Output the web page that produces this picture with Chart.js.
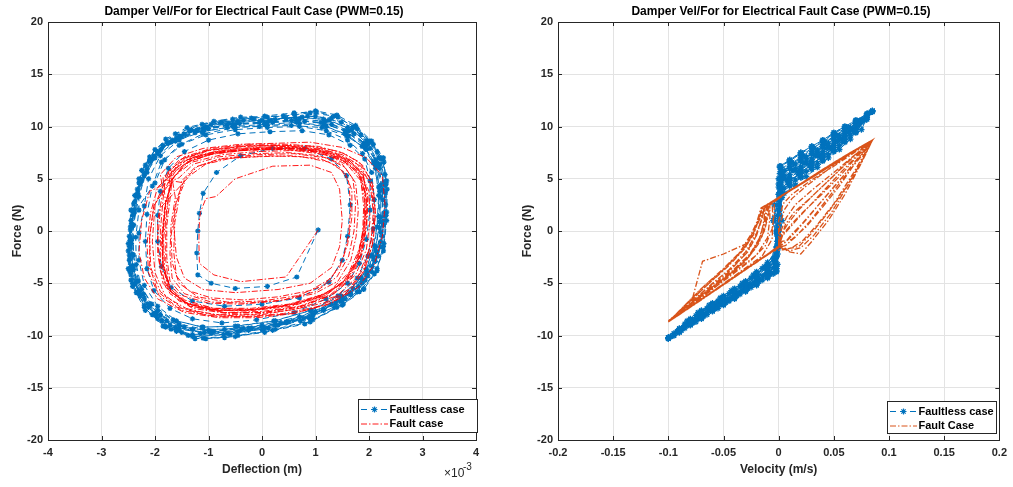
<!DOCTYPE html>
<html>
<head>
<meta charset="utf-8">
<script src="https://cdn.jsdelivr.net/npm/chart.js@4.4.1/dist/chart.umd.min.js"></script>
<style>
  html, body { margin: 0; padding: 0; background: #fff; }
  #wrap { position: relative; width: 1013px; height: 487px; overflow: hidden; }
  canvas { position: absolute; top: 0; }
</style>
</head>
<body>
<div id="wrap">
  <canvas id="deflChart" width="506" height="487" style="left:0"></canvas>
  <canvas id="velChart" width="507" height="487" style="left:506px"></canvas>
</div>
<script>
const chartTitle = "Damper Vel/For for Electrical Fault Case (PWM=0.15)";
const deflTicks = [-4, -3, -2, -1, 0, 1, 2, 3, 4];
const velTicks = [-0.2, -0.15, -0.1, -0.05, 0, 0.05, 0.1, 0.15, 0.2];
const forceTicks = [-20, -15, -10, -5, 0, 5, 10, 15, 20];

// left plot: [deflection (x1e-3 m), force (N)], one line per cycle
const faultlessDefl = [
  [1.05,0.1],[0.65,-4.4],[0.1,-5.3],[-0.5,-5.5],[-0.95,-5.0],[-1.2,-4.2],[-1.22,-2.1],[-1.2,0.0],[-1.17,1.7],[-1.1,3.6],[-0.85,5.6],[-0.4,7.2],[0.2,7.9],[0.8,7.9],[1.3,6.9],[1.58,5.3],[1.65,2.5],[1.6,-0.5],[1.5,-2.8],[1.25,-4.9],[0.7,-6.4],[0.0,-7.0],[-0.7,-7.2],[-1.3,-6.7],[-1.7,-5.4],[-1.88,-3.4],[-1.95,-1.0],[-1.95,1.5],
  [-1.9,3.8],[-1.75,6.0],[-1.45,7.6],[-1.0,8.7],[-0.45,9.3],[0.15,9.5],[0.75,9.6],[1.25,9.2],[1.65,8.2],[1.92,6.9],[2.02,4.8],[2.02,2.0],[1.95,-0.8],[1.82,-3.1],[1.6,-5.0],[1.2,-6.5],[0.6,-7.8],[-0.1,-8.5],[-0.75,-8.8],[-1.3,-8.4],[-1.72,-7.4],[-2.02,-5.7],[-2.15,-3.6],[-2.18,-1.0],[-2.15,1.6],
  [-2.05,4.3],[-1.88,6.6],[-1.55,8.2],[-1.1,9.3],[-0.5,9.9],[0.1,10.1],[0.7,10.3],[1.2,10.0],[1.62,9.1],[1.95,7.8],[2.12,6.0],[2.18,3.4],[2.15,0.4],[2.05,-2.3],[1.85,-4.5],[1.5,-6.3],[1.0,-7.7],[0.35,-8.8],[-0.35,-9.3],[-1.0,-9.5],[-1.55,-8.9],[-1.95,-7.6],[-2.25,-5.6],[-2.35,-3.2],[-2.36,-0.6],[-2.3,2.0],
  [-2.3,5.0],[-2.1,7.1],[-1.8,8.8],[-1.4,9.9],[-0.9,10.5],[-0.4,10.9],[0.1,10.9],[0.6,11.2],[1.0,11.5],[1.4,11.1],[1.75,10.1],[2.05,8.6],[2.27,7.0],[2.32,4.5],[2.32,1.5],[2.27,-1.5],[2.15,-3.8],[1.9,-5.6],[1.5,-7.1],[0.9,-8.7],[0.2,-9.5],[-0.5,-10.1],[-1.05,-10.3],[-1.5,-9.7],[-1.87,-8.6],[-2.2,-6.5],[-2.45,-4.2],[-2.48,-1.5],[-2.42,1.9],
  [-2.28,4.6],[-2.05,6.9],[-1.7,8.5],[-1.22,9.6],[-0.65,10.2],[-0.05,10.4],[0.55,10.6],[1.1,10.4],[1.55,9.6],[1.9,8.4],[2.12,6.8],[2.22,4.4],[2.22,1.3],[2.12,-1.6],[1.96,-4.0],[1.65,-5.9],[1.15,-7.5],[0.45,-8.7],[-0.25,-9.3],[-0.95,-9.6],[-1.55,-9.1],[-1.98,-7.8],[-2.3,-5.7],[-2.42,-3.3],[-2.45,-0.7],[-2.4,2.0],
  [-2.2,5.3],[-1.95,7.5],[-1.55,9.1],[-1.05,10.0],[-0.45,10.5],[0.15,10.6],[0.75,10.9],[1.25,10.6],[1.68,9.7],[1.98,8.3],[2.2,6.4],[2.3,3.7],[2.27,0.6],[2.17,-2.4],[1.93,-4.7],[1.55,-6.5],[0.95,-8.0],[0.25,-9.0],[-0.45,-9.6],[-1.15,-9.8],[-1.72,-9.0],[-2.12,-7.3],[-2.38,-5.1],[-2.47,-2.6],[-2.46,0.4],[-2.38,3.4],
  [-2.18,6.3],[-1.85,8.2],[-1.35,9.6],[-0.75,10.4],[-0.15,10.7],[0.45,10.8],[1.0,11.0],[1.48,10.4],[1.85,9.2],[2.15,7.6],[2.3,5.4],[2.31,2.5],[2.25,-0.5],[2.12,-2.9],[1.87,-5.0],[1.47,-6.7],[0.88,-8.3],[0.12,-9.3],[-0.6,-9.9],[-1.3,-10.1],[-1.82,-9.1],[-2.2,-7.1],[-2.45,-4.7],[-2.5,-1.9],[-2.45,1.0],[-2.33,4.0],
  [-2.1,6.7],[-1.75,8.4],[-1.25,9.4],[-0.65,9.9],[-0.05,10.0],[0.55,10.1],[1.12,9.9],[1.58,9.1],[1.93,7.9],[2.14,6.1],[2.21,3.3],[2.2,0.3],[2.08,-2.5],[1.86,-4.5],[1.47,-6.2],[0.92,-7.6],[0.22,-8.6],[-0.5,-9.1],[-1.12,-9.2],[-1.66,-8.5],[-2.06,-7.0],[-2.31,-4.8],[-2.4,-2.3],[-2.41,0.5],[-2.32,3.6],
  [-2.25,5.8],[-2.0,7.8],[-1.62,9.3],[-1.12,10.2],[-0.55,10.7],[0.05,11.0],[0.6,11.3],[1.02,11.4],[1.42,10.9],[1.78,9.8],[2.08,8.3],[2.28,6.6],[2.34,4.0],[2.33,1.0],[2.27,-1.9],[2.1,-4.1],[1.82,-5.8],[1.4,-7.3],[0.8,-8.9],[0.05,-9.7],[-0.7,-10.2],[-1.25,-10.3],[-1.7,-9.4],[-2.05,-8.0],[-2.35,-5.9],[-2.5,-3.6],[-2.48,-0.5],[-2.4,2.6],
  [-2.15,5.6],[-1.9,7.7],[-1.5,9.0],[-1.0,9.8],[-0.42,10.3],[0.2,10.4],[0.8,10.5],[1.3,10.2],[1.72,9.3],[2.02,7.9],[2.2,6.0],[2.26,3.0],[2.22,-0.1],[2.1,-2.8],[1.88,-4.9],[1.5,-6.6],[0.95,-8.1],[0.3,-9.0],[-0.4,-9.5],[-1.08,-9.7],[-1.62,-9.2],[-2.0,-7.9],[-2.3,-5.9],[-2.42,-3.5],[-2.44,-0.9],[-2.38,1.8],
  [-2.25,4.9],[-2.02,7.2],[-1.68,8.7],[-1.2,9.7],[-0.62,10.3],[0.0,10.6],[0.62,10.9],[1.15,10.7],[1.6,9.9],[1.95,8.6],[2.18,7.0],[2.28,4.7],[2.3,1.8],[2.22,-1.0],[2.06,-3.4],[1.8,-5.3],[1.38,-6.9],[0.78,-8.4],[0.05,-9.3],[-0.65,-9.8],[-1.3,-9.9],[-1.8,-9.2],[-2.18,-7.6],[-2.42,-5.3],[-2.48,-2.8],[-2.46,0.1],[-2.38,2.8],
  [-2.2,5.5],[-1.95,7.6],[-1.6,8.9],[-1.1,9.8],[-0.55,10.2],[0.05,10.3],[0.65,10.6],[1.15,10.3],[1.58,9.5],[1.9,8.2],[2.12,6.4],[2.2,3.8],[2.2,0.9],[2.12,-1.9],[1.95,-4.2],[1.65,-6.0],[1.15,-7.5],[0.5,-8.7],[-0.2,-9.3],[-0.9,-9.6],[-1.45,-9.2],[-1.9,-8.0],[-2.22,-6.0],[-2.4,-3.7],[-2.44,-1.2],[-2.42,1.5],
  [-2.0,4.6],[-1.82,6.8],[-1.5,8.3],[-1.05,9.2],[-0.5,9.7],[0.1,9.9],[0.7,10.0],[1.2,9.6],[1.6,8.7],[1.88,7.4],[2.05,5.6],[2.1,3.0],[2.08,0.2],[1.98,-2.4],[1.78,-4.5],[1.42,-6.2],[0.9,-7.6],[0.25,-8.6],[-0.45,-9.1],[-1.1,-9.2],[-1.6,-8.6],[-1.95,-7.2],[-2.2,-5.2],[-2.3,-2.8],[-2.3,-0.2],[-2.2,2.4],
  [-2.12,5.0],[-1.9,7.2],[-1.55,8.7],[-1.08,9.7],[-0.5,10.2],[0.1,10.4],[0.7,10.7],[1.18,10.5],[1.62,9.6],[1.95,8.2],[2.15,6.5],[2.25,4.0],[2.25,0.9],[2.15,-2.0],[1.98,-4.3],[1.66,-6.1],[1.15,-7.6],[0.45,-8.8],[-0.25,-9.5],[-0.95,-9.8],[-1.55,-9.4],[-1.98,-8.1],[-2.3,-6.0],[-2.45,-3.5],[-2.47,-0.9],[-2.4,1.9],
  [-2.3,4.6],[-2.1,6.8],[-1.78,8.5],[-1.32,9.7],[-0.78,10.4],[-0.2,10.8],[0.4,11.0],[0.9,11.3],[1.35,11.0],[1.72,10.0],[2.02,8.6],[2.24,7.0],[2.33,4.8],[2.33,1.8],[2.28,-1.2],[2.15,-3.6],[1.9,-5.5],[1.52,-7.0],[0.95,-8.5],[0.25,-9.4],[-0.45,-10.0],[-1.1,-10.25],[-1.6,-9.6],[-1.95,-8.4],[-2.28,-6.2],[-2.47,-3.9],[-2.5,-1.2],[-2.45,2.0],
  [-2.25,4.8],[-2.0,7.0],[-1.62,8.6],[-1.12,9.5],[-0.55,10.0],[0.05,10.2],[0.65,10.4],[1.15,10.1],[1.55,9.3],[1.87,8.1],[2.08,6.5],[2.18,4.2],[2.18,1.4],[2.1,-1.4],[1.95,-3.7],[1.7,-5.5],[1.3,-7.0],[0.7,-8.2],[0.0,-9.0],[-0.7,-9.4],[-1.3,-9.4],[-1.78,-8.6],[-2.12,-7.0],[-2.35,-4.8],[-2.42,-2.2],[-2.4,0.6],[-2.3,3.3],
  [-2.15,5.9],[-1.88,7.9],[-1.46,9.3],[-0.95,10.2],[-0.35,10.6],[0.25,10.7],[0.85,11.0],[1.3,10.8],[1.7,9.9],[2.0,8.6],[2.22,6.9],[2.3,4.4],[2.3,1.4],[2.22,-1.5],[2.05,-3.9],[1.78,-5.8],[1.35,-7.3],[0.72,-8.6],[0.0,-9.4],[-0.72,-9.9],[-1.38,-10.0],[-1.85,-9.1],[-2.2,-7.3],[-2.42,-5.0],[-2.48,-2.3],[-2.44,0.7],[-2.35,3.4]
];
const faultDefl = [
  [1.05,0.1],[0.45,-4.4],[-0.4,-4.85],[-0.9,-4.2],[-1.17,-3.1],[-1.18,-1.0],[-1.17,1.0],[-1.15,1.8],[-1.05,3.1],[-0.86,3.3],[-0.5,5.0],[0.2,6.2],[0.9,6.3],[1.3,5.6],[1.45,4.0],[1.5,1.0],[1.45,-1.5],[1.3,-3.5],[0.9,-5.0],[0.3,-5.6],[-0.5,-5.9],[-1.1,-5.6],[-1.45,-4.5],[-1.6,-2.5],[-1.65,0.5],[-1.6,3.0],
  [-1.45,4.9],[-1.2,6.2],[-0.75,6.9],[-0.1,7.1],[0.55,7.2],[1.1,6.9],[1.45,6.1],[1.62,4.7],[1.66,2.3],[1.62,-0.3],[1.52,-2.6],[1.3,-4.5],[0.9,-5.7],[0.3,-6.3],[-0.35,-6.6],[-0.95,-6.4],[-1.38,-5.7],[-1.6,-4.3],[-1.65,-2.0],[-1.63,0.8],[-1.55,3.2],
  [-1.5,4.8],[-1.25,6.1],[-0.8,6.9],[-0.1,7.3],[0.6,7.4],[1.2,7.0],[1.55,6.1],[1.75,4.6],[1.8,2.0],[1.76,-0.5],[1.66,-2.8],[1.42,-4.8],[0.98,-6.0],[0.3,-6.7],[-0.4,-7.0],[-1.0,-6.9],[-1.48,-6.2],[-1.72,-4.8],[-1.78,-2.5],[-1.78,0.5],[-1.72,3.0],
  [-1.68,5.0],[-1.4,6.6],[-0.9,7.4],[-0.2,7.8],[0.5,7.9],[1.1,7.6],[1.58,6.8],[1.88,5.5],[1.98,3.2],[1.95,0.5],[1.85,-2.2],[1.6,-4.5],[1.2,-6.0],[0.5,-7.0],[-0.2,-7.4],[-0.9,-7.4],[-1.45,-6.8],[-1.8,-5.4],[-1.9,-3.0],[-1.9,0.0],[-1.85,3.0],
  [-1.8,5.3],[-1.5,6.9],[-1.0,7.7],[-0.3,8.1],[0.4,8.2],[1.0,8.0],[1.5,7.3],[1.85,6.2],[2.05,4.2],[2.1,1.2],[2.0,-1.8],[1.8,-4.3],[1.4,-6.2],[0.7,-7.4],[0.0,-8.0],[-0.7,-8.1],[-1.35,-7.6],[-1.8,-6.3],[-2.0,-4.0],[-2.05,-1.0],[-2.0,2.5],
  [-1.75,5.5],[-1.35,7.0],[-0.8,7.6],[-0.1,7.9],[0.6,8.0],[1.2,7.6],[1.65,6.7],[1.9,5.2],[1.95,2.6],[1.9,-0.2],[1.78,-2.9],[1.5,-5.0],[1.05,-6.4],[0.4,-7.2],[-0.3,-7.6],[-1.0,-7.5],[-1.55,-6.7],[-1.85,-5.0],[-1.95,-2.2],[-1.95,1.0],[-1.85,3.8],
  [-1.9,5.4],[-1.6,7.1],[-1.1,7.9],[-0.4,8.3],[0.3,8.4],[0.9,8.5],[1.5,8.0],[1.95,7.0],[2.25,5.3],[2.3,2.5],[2.25,-0.5],[2.1,-3.2],[1.8,-5.4],[1.3,-6.9],[0.6,-7.9],[-0.1,-8.3],[-0.8,-8.3],[-1.45,-7.8],[-1.95,-6.5],[-2.2,-4.5],[-2.3,-2.0],[-2.25,1.0],[-2.1,3.8],
  [-1.55,5.1],[-1.28,6.4],[-0.8,7.1],[-0.15,7.4],[0.5,7.5],[1.08,7.2],[1.5,6.4],[1.7,5.0],[1.75,2.7],[1.72,0.0],[1.62,-2.4],[1.4,-4.4],[1.0,-5.8],[0.4,-6.6],[-0.3,-6.9],[-0.95,-6.8],[-1.45,-6.0],[-1.68,-4.5],[-1.72,-2.2],[-1.7,0.6],[-1.62,3.2],
  [-1.7,5.6],[-1.4,6.8],[-0.9,7.5],[-0.2,7.8],[0.5,7.8],[1.1,7.5],[1.55,6.6],[1.85,5.3],[1.95,3.0],[1.92,0.2],[1.82,-2.5],[1.6,-4.6],[1.2,-6.1],[0.6,-7.0],[-0.1,-7.5],[-0.8,-7.6],[-1.4,-7.0],[-1.75,-5.6],[-1.85,-3.3],[-1.85,-0.3],[-1.8,2.8],
  [-1.65,5.2],[-1.3,6.6],[-0.75,7.3],[-0.1,7.6],[0.6,7.7],[1.2,7.3],[1.6,6.3],[1.85,4.8],[1.9,2.4],[1.88,-0.4],[1.75,-3.0],[1.5,-5.0],[1.05,-6.3],[0.45,-7.1],[-0.2,-7.5],[-0.9,-7.4],[-1.45,-6.6],[-1.75,-5.0],[-1.8,-2.7],[-1.8,0.3],[-1.75,3.2],
  [-1.72,5.3],[-1.45,6.9],[-0.95,7.8],[-0.25,8.2],[0.45,8.1],[1.05,7.8],[1.52,7.0],[1.82,5.8],[2.0,3.8],[2.02,1.0],[1.95,-1.8],[1.75,-4.2],[1.35,-6.0],[0.75,-7.2],[0.05,-7.8],[-0.65,-7.9],[-1.3,-7.4],[-1.72,-6.0],[-1.9,-3.8],[-1.95,-1.0],[-1.9,2.2],
  [-1.35,5.3],[-1.05,6.4],[-0.55,7.0],[0.1,7.2],[0.75,7.1],[1.25,6.6],[1.55,5.6],[1.68,3.9],[1.68,1.3],[1.6,-1.3],[1.45,-3.5],[1.15,-5.2],[0.65,-6.2],[0.0,-6.7],[-0.65,-6.8],[-1.2,-6.3],[-1.55,-5.0],[-1.68,-3.0],[-1.7,-0.5],[-1.62,2.5],[-1.45,4.6],
  [-1.8,4.9],[-1.55,6.5],[-1.1,7.4],[-0.45,7.9],[0.25,8.0],[0.85,7.9],[1.4,7.4],[1.78,6.4],[2.02,4.6],[2.08,1.8],[2.04,-1.0],[1.9,-3.6],[1.62,-5.6],[1.15,-6.9],[0.5,-7.6],[-0.2,-8.0],[-0.92,-8.0],[-1.52,-7.3],[-1.9,-5.8],[-2.08,-3.5],[-2.1,-0.6],[-2.02,2.4],
  [-1.62,5.7],[-1.3,7.0],[-0.8,7.7],[-0.15,8.0],[0.55,8.1],[1.15,7.8],[1.6,6.9],[1.88,5.6],[1.98,3.4],[1.96,0.7],[1.88,-2.0],[1.68,-4.4],[1.28,-6.2],[0.68,-7.3],[0.0,-7.8],[-0.72,-7.8],[-1.35,-7.2],[-1.7,-5.8],[-1.82,-3.6],[-1.84,-0.8],[-1.78,2.1],
  [-1.7,4.8],[-1.45,6.4],[-1.0,7.3],[-0.35,7.7],[0.35,7.8],[0.95,7.6],[1.45,6.9],[1.78,5.8],[1.92,3.7],[1.92,1.0],[1.82,-1.7],[1.62,-4.0],[1.25,-5.8],[0.65,-7.0],[-0.05,-7.5],[-0.78,-7.6],[-1.38,-7.0],[-1.72,-5.5],[-1.85,-3.2],[-1.86,-0.4],[-1.8,2.6],
  [-1.85,5.1],[-1.55,6.8],[-1.05,7.7],[-0.35,8.1],[0.35,8.2],[0.95,8.1],[1.45,7.6],[1.82,6.6],[2.05,4.8],[2.12,2.0],[2.08,-1.0],[1.92,-3.7],[1.65,-5.8],[1.2,-7.1],[0.55,-7.9],[-0.15,-8.2],[-0.85,-8.2],[-1.5,-7.6],[-1.92,-6.2],[-2.12,-4.0],[-2.15,-1.2],[-2.08,1.8],[-1.95,4.2],
  [-1.58,5.9],[-1.25,7.0],[-0.72,7.6],[-0.05,7.8],[0.62,7.9],[1.18,7.5],[1.58,6.6],[1.83,5.2],[1.92,2.9],[1.9,0.2],[1.8,-2.4],[1.58,-4.6],[1.18,-6.2],[0.55,-7.2],[-0.15,-7.6],[-0.85,-7.6],[-1.42,-6.9],[-1.75,-5.3],[-1.86,-3.0],[-1.86,-0.2],[-1.8,2.7],[-1.68,4.8],
  [-1.75,5.6],[-1.45,7.1],[-0.95,7.9],[-0.25,8.3],[0.45,8.3],[1.05,8.1],[1.55,7.4],[1.88,6.3],[2.08,4.3],[2.12,1.5],[2.06,-1.4],[1.9,-3.9],[1.58,-5.9],[1.08,-7.2],[0.4,-7.9],[-0.3,-8.2],[-1.0,-8.1],[-1.58,-7.3],[-1.95,-5.8],[-2.1,-3.4],[-2.1,-0.5],[-2.02,2.5],
  [-1.62,5.3],[-1.35,6.7],[-0.85,7.5],[-0.2,7.9],[0.5,7.9],[1.1,7.6],[1.55,6.8],[1.82,5.5],[1.95,3.4],[1.95,0.6],[1.86,-2.1],[1.65,-4.4],[1.28,-6.1],[0.7,-7.2],[0.0,-7.7],[-0.7,-7.8],[-1.32,-7.2],[-1.7,-5.8],[-1.85,-3.6],[-1.88,-0.8],[-1.82,2.2],[-1.7,4.6]
];

// right plot: [velocity (m/s), force (N)], one line per half cycle
const faultlessVel = [
  [-0.1,-10.3],[-0.09,-9.7],[-0.08,-9.0],[-0.07,-8.4],[-0.06,-7.7],[-0.05,-7.1],[-0.04,-6.5],[-0.03,-5.8],[-0.02,-5.2],[-0.01,-4.5],[-0.002,-3.9],[-0.001,-1.0],[0.0,2.5],[0.001,6.1],[0.01,6.8],[0.02,7.5],[0.03,8.1],[0.04,8.7],[0.05,9.4],[0.06,10.0],[0.07,10.6],[0.08,11.2],[0.085,11.5],
  [0.08,10.7],[0.07,9.7],[0.06,8.8],[0.05,8.0],[0.04,7.2],[0.03,6.4],[0.02,5.6],[0.01,4.8],[0.002,4.1],[0.001,2.0],[0.0,-0.5],[-0.002,-2.4],[-0.01,-3.3],[-0.02,-4.2],[-0.03,-5.0],[-0.04,-5.7],[-0.05,-6.4],[-0.06,-7.1],[-0.07,-7.8],[-0.08,-8.5],[-0.09,-9.4],
  [-0.09,-9.6],[-0.08,-8.9],[-0.07,-8.2],[-0.06,-7.5],[-0.05,-6.9],[-0.04,-6.3],[-0.03,-5.6],[-0.02,-4.9],[-0.01,-4.2],[-0.002,-3.6],[-0.001,0.0],[0.0,3.5],[0.002,5.6],[0.01,6.2],[0.02,7.0],[0.03,7.6],[0.04,8.3],[0.05,9.0],[0.06,9.7],[0.07,10.3],[0.08,11.0],
  [0.07,9.4],[0.06,8.5],[0.05,7.6],[0.04,6.7],[0.03,5.9],[0.02,5.1],[0.01,4.3],[0.002,3.5],[0.0,0.5],[-0.001,-1.8],[-0.01,-3.0],[-0.02,-3.9],[-0.03,-4.8],[-0.04,-5.5],[-0.05,-6.2],[-0.06,-6.9],[-0.07,-7.6],[-0.08,-8.4],[-0.095,-9.8],
  [-0.095,-10.0],[-0.085,-9.3],[-0.075,-8.7],[-0.065,-8.0],[-0.055,-7.4],[-0.045,-6.7],[-0.035,-6.05],[-0.025,-5.4],[-0.015,-4.7],[-0.005,-4.1],[-0.002,-3.8],[-0.001,-0.5],[0.001,4.0],[0.002,5.9],[0.01,6.5],[0.02,7.2],[0.03,7.9],[0.04,8.5],[0.05,9.2],[0.06,9.8],[0.07,10.5],[0.08,11.1],[0.084,11.4],
  [0.075,10.4],[0.065,9.7],[0.055,8.8],[0.045,8.0],[0.035,7.2],[0.025,6.5],[0.015,5.8],[0.005,5.0],[0.002,4.6],[0.001,1.5],[-0.001,-1.5],[-0.003,-2.9],[-0.01,-3.6],[-0.02,-4.4],[-0.03,-5.2],[-0.04,-5.9],[-0.05,-6.6],[-0.06,-7.2],[-0.07,-7.9],[-0.08,-8.6],[-0.09,-9.5],
  [-0.085,-9.1],[-0.075,-8.5],[-0.065,-7.8],[-0.055,-7.1],[-0.045,-6.5],[-0.035,-5.8],[-0.025,-5.1],[-0.015,-4.3],[-0.005,-3.5],[-0.001,-3.2],[-0.004,1.0],[0.001,5.0],[0.01,6.0],[0.02,6.7],[0.03,7.4],[0.04,8.0],[0.05,8.8],[0.06,9.5],[0.07,10.2],[0.075,10.6],
  [0.065,9.1],[0.055,8.2],[0.045,7.3],[0.035,6.5],[0.025,5.7],[0.015,4.9],[0.005,4.1],[0.001,3.6],[0.0,-1.5],[-0.005,-2.7],[-0.015,-3.6],[-0.025,-4.5],[-0.035,-5.3],[-0.045,-6.0],[-0.055,-6.7],[-0.065,-7.4],[-0.075,-8.1],[-0.085,-8.9],[-0.1,-10.2],
  [-0.1,-10.3],[-0.09,-9.7],[-0.08,-9.0],[-0.07,-8.35],[-0.06,-7.65],[-0.05,-7.05],[-0.04,-6.45],[-0.03,-5.75],[-0.02,-5.1],[-0.01,-4.4],[-0.003,-3.9],[-0.002,-2.0],[-0.001,1.5],[0.0,5.0],[0.002,6.2],[0.01,6.7],[0.02,7.4],[0.03,8.0],[0.04,8.6],[0.05,9.3],[0.06,9.9],[0.07,10.5],[0.08,11.2],[0.085,11.5],
  [0.078,10.7],[0.068,9.7],[0.058,8.8],[0.048,8.0],[0.038,7.2],[0.028,6.4],[0.018,5.7],[0.008,4.9],[0.002,4.4],[0.003,1.0],[-0.001,-2.2],[-0.01,-3.45],[-0.02,-4.3],[-0.03,-5.1],[-0.04,-5.8],[-0.05,-6.5],[-0.06,-7.1],[-0.07,-7.8],[-0.08,-8.6],[-0.092,-9.6],
  [-0.092,-9.7],[-0.082,-9.0],[-0.072,-8.35],[-0.062,-7.65],[-0.052,-6.9],[-0.042,-6.3],[-0.032,-5.6],[-0.022,-4.95],[-0.012,-4.2],[-0.003,-3.4],[-0.002,-0.2],[0.0,4.2],[0.002,5.7],[0.012,6.5],[0.022,7.2],[0.032,7.9],[0.042,8.5],[0.052,9.2],[0.062,9.8],[0.072,10.5],[0.082,11.3],
  [0.075,9.7],[0.065,8.8],[0.055,7.8],[0.045,7.0],[0.035,6.1],[0.025,5.2],[0.015,4.4],[0.005,3.6],[0.001,3.2],[0.0,0.0],[-0.002,-2.5],[-0.01,-3.75],[-0.02,-4.55],[-0.03,-5.3],[-0.04,-6.0],[-0.05,-6.65],[-0.06,-7.3],[-0.07,-8.0],[-0.08,-8.7],[-0.09,-9.5],[-0.098,-10.1],
  [-0.098,-10.1],[-0.088,-9.5],[-0.078,-8.8],[-0.068,-8.15],[-0.058,-7.45],[-0.048,-6.85],[-0.038,-6.2],[-0.028,-5.5],[-0.018,-4.85],[-0.008,-4.15],[-0.002,-3.6],[-0.001,-1.2],[0.001,3.0],[0.003,5.0],[0.013,5.8],[0.023,6.5],[0.033,7.2],[0.043,7.9],[0.053,8.6],[0.063,9.4],[0.073,10.2],[0.078,10.6],
  [0.068,9.5],[0.058,8.6],[0.048,7.8],[0.038,7.0],[0.028,6.2],[0.018,5.4],[0.008,4.6],[0.002,4.0],[-0.004,1.2],[-0.002,-1.6],[-0.01,-3.2],[-0.02,-4.1],[-0.03,-4.95],[-0.04,-5.65],[-0.05,-6.35],[-0.06,-7.0],[-0.07,-7.7],[-0.08,-8.5],[-0.09,-9.35],
  [-0.088,-9.3],[-0.078,-8.7],[-0.068,-8.05],[-0.058,-7.3],[-0.048,-6.7],[-0.038,-6.0],[-0.028,-5.3],[-0.018,-4.6],[-0.008,-3.9],[-0.002,-3.3],[-0.001,0.5],[0.0,4.5],[0.001,6.2],[0.01,6.8],[0.02,7.5],[0.03,8.1],[0.04,8.7],[0.05,9.4],[0.06,10.0],[0.07,10.6],[0.08,11.2],[0.085,11.5],
  [0.075,10.5],[0.065,9.8],[0.055,9.0],[0.045,8.2],[0.035,7.5],[0.025,6.8],[0.015,6.0],[0.005,5.3],[0.001,5.0],[0.0,2.0],[-0.001,-1.0],[-0.003,-2.6],[-0.013,-3.4],[-0.023,-4.2],[-0.033,-5.0],[-0.043,-5.7],[-0.053,-6.4],[-0.063,-7.1],[-0.073,-7.8],[-0.083,-8.6],[-0.1,-10.2],
  [-0.09,-9.5],[-0.08,-8.7],[-0.07,-8.0],[-0.06,-7.3],[-0.05,-6.65],[-0.04,-6.0],[-0.03,-5.3],[-0.02,-4.55],[-0.01,-3.75],[-0.003,-3.2],[-0.002,-1.5],[-0.005,1.0],[0.0,3.5],[0.002,4.8],[0.01,5.4],[0.02,6.15],[0.03,6.9],[0.04,7.6],[0.05,8.4],[0.06,9.15],[0.07,9.95],[0.08,10.85],
  [0.07,9.5],[0.06,8.55],[0.05,7.7],[0.04,6.8],[0.03,6.05],[0.02,5.2],[0.01,4.4],[0.002,3.6],[0.001,1.5],[-0.001,-1.0],[-0.004,-2.6],[-0.01,-3.9],[-0.02,-4.7],[-0.03,-5.4],[-0.04,-6.1],[-0.05,-6.75],[-0.06,-7.4],[-0.07,-8.1],[-0.08,-8.75],[-0.09,-9.55],
  [-0.08,-8.6],[-0.07,-7.9],[-0.06,-7.2],[-0.05,-6.5],[-0.04,-5.85],[-0.03,-5.15],[-0.02,-4.35],[-0.01,-3.5],[-0.003,-2.9],[-0.002,0.0],[-0.004,2.5],[0.001,4.6],[0.01,5.1],[0.02,5.9],[0.03,6.65],[0.04,7.4],[0.05,8.2],[0.06,9.0],[0.07,9.8],
  [0.06,9.5],[0.05,8.8],[0.04,8.05],[0.03,7.4],[0.02,6.7],[0.01,5.95],[0.003,5.4],[0.001,3.0],[0.0,0.0],[-0.003,-2.2],[-0.01,-4.2],[-0.02,-4.95],[-0.03,-5.6],[-0.04,-6.3],[-0.05,-6.9],[-0.06,-7.55],[-0.07,-8.25],[-0.08,-8.9],[-0.09,-9.6],[-0.1,-10.3],
  [-0.1,-10.2],[-0.09,-9.35],[-0.08,-8.5],[-0.07,-7.7],[-0.06,-7.0],[-0.05,-6.35],[-0.04,-5.65],[-0.03,-4.95],[-0.02,-4.1],[-0.01,-3.2],[-0.002,-2.4],[0.0,0.5],[0.003,3.2],[0.002,4.0],[0.01,4.85],[0.02,5.6],[0.03,6.4],[0.04,7.15],[0.05,8.0],[0.06,8.8],[0.07,9.7],[0.08,10.7],[0.085,11.4],
  [0.075,10.6],[0.065,9.9],[0.055,9.15],[0.045,8.4],[0.035,7.75],[0.025,7.1],[0.015,6.4],[0.005,5.8],[0.001,5.5],[0.0,3.0],[-0.001,0.0],[-0.003,-3.0],[-0.01,-4.35],[-0.02,-5.05],[-0.03,-5.7],[-0.04,-6.4],[-0.05,-7.0],[-0.06,-7.6],[-0.07,-8.3],[-0.08,-8.95],[-0.095,-10.0]
];
const faultVel = [
  [-0.078,-6.4],[-0.069,-2.9],[-0.05,-2.2],[-0.029,-1.2],[-0.02,0.5],[-0.015,2.2],[0.0,3.2],[0.02,4.5],[0.04,5.9],[0.06,7.2],[0.085,8.7],
  [0.06,7.1],[0.03,5.1],[0.0,3.2],[-0.016,2.2],[-0.02,0.8],[-0.025,-0.3],[-0.035,-2.0],[-0.05,-3.6],[-0.07,-5.5],[-0.1,-8.7],
  [-0.08,-7.25],[-0.05,-5.1],[-0.02,-2.95],[0.0,-1.5],[0.01,-2.0],[0.02,-2.2],[0.03,-1.0],[0.045,1.0],[0.06,3.5],[0.075,6.5],[0.085,8.7],
  [0.065,7.5],[0.04,5.9],[0.015,4.2],[-0.005,2.9],[-0.013,2.3],[-0.016,1.0],[-0.02,-0.2],[-0.03,-2.0],[-0.045,-3.7],[-0.065,-5.5],[-0.1,-8.6],
  [-0.075,-6.9],[-0.045,-4.75],[-0.015,-2.6],[0.0,-1.55],[0.003,-1.0],[0.012,-0.8],[0.025,0.4],[0.04,2.3],[0.055,4.3],[0.07,6.6],[0.085,8.7],
  [0.06,7.1],[0.035,5.5],[0.01,3.9],[-0.01,2.4],[-0.012,1.0],[-0.015,-0.5],[-0.025,-2.1],[-0.04,-3.7],[-0.06,-5.4],[-0.1,-8.7],
  [-0.07,-6.55],[-0.04,-4.4],[-0.012,-2.4],[0.0,-1.6],[0.003,-0.5],[0.01,0.3],[0.02,1.5],[0.035,3.2],[0.05,4.9],[0.068,6.9],[0.084,8.6],
  [0.062,7.3],[0.032,5.3],[0.008,3.7],[-0.008,2.5],[-0.008,1.2],[-0.01,-0.6],[-0.02,-2.3],[-0.04,-3.9],[-0.06,-5.6],[-0.098,-8.5],
  [-0.075,-6.95],[-0.045,-4.8],[-0.015,-2.6],[0.0,-1.5],[0.002,0.0],[0.007,1.3],[0.015,2.5],[0.03,3.9],[0.05,5.6],[0.068,7.2],[0.085,8.7],
  [0.058,7.0],[0.03,5.2],[0.005,3.5],[-0.012,2.4],[-0.014,0.6],[-0.018,-0.9],[-0.028,-2.6],[-0.045,-4.2],[-0.07,-6.1],[-0.1,-8.7],
  [-0.08,-7.3],[-0.05,-5.15],[-0.02,-3.0],[0.0,-1.6],[0.001,0.5],[0.005,2.0],[0.012,3.1],[0.025,4.3],[0.045,5.9],[0.065,7.4],[0.083,8.6],
  [0.06,7.2],[0.03,5.2],[0.006,3.6],[-0.006,2.6],[-0.005,1.0],[-0.006,-0.8],[-0.015,-2.4],[-0.035,-3.9],[-0.06,-5.8],[-0.095,-8.3],
  [-0.07,-6.5],[-0.04,-4.4],[-0.01,-2.2],[0.0,-1.4],[0.0,1.0],[0.004,2.6],[0.012,3.5],[0.03,4.9],[0.05,6.2],[0.07,7.6],[0.085,8.7],
  [0.065,7.5],[0.04,5.9],[0.015,4.2],[-0.005,2.9],[-0.015,2.2],[-0.019,0.9],[-0.024,-0.4],[-0.033,-1.9],[-0.048,-3.5],[-0.068,-5.3],[-0.1,-8.7],
  [-0.085,-7.6],[-0.055,-5.45],[-0.025,-3.3],[0.0,-1.5],[0.008,-1.7],[0.018,-1.5],[0.03,-0.2],[0.045,1.8],[0.06,4.0],[0.075,6.6],[0.085,8.7],
  [0.055,6.7],[0.025,4.8],[0.0,3.2],[-0.011,2.4],[-0.013,0.9],[-0.017,-0.6],[-0.026,-2.2],[-0.042,-3.8],[-0.062,-5.5],[-0.1,-8.7],
  [-0.075,-6.9],[-0.045,-4.75],[-0.015,-2.6],[0.0,-1.5],[0.004,-0.3],[0.012,0.7],[0.022,1.8],[0.038,3.4],[0.055,5.2],[0.07,7.0],[0.085,8.7],
  [0.07,7.8],[0.045,6.2],[0.02,4.5],[0.0,3.2],[-0.012,2.4],[-0.016,1.4],[-0.022,0.0],[-0.03,-1.6],[-0.045,-3.3],[-0.065,-5.2],[-0.1,-8.7],
  [-0.09,-8.0],[-0.06,-5.85],[-0.03,-3.7],[0.0,-1.55],[0.006,-1.4],[0.015,-0.6],[0.028,0.9],[0.045,3.2],[0.062,5.5],[0.076,7.3],[0.085,8.7],
  [0.06,7.1],[0.03,5.1],[0.002,3.3],[-0.009,2.5],[-0.01,1.5],[-0.013,0.0],[-0.022,-1.8],[-0.038,-3.6],[-0.058,-5.3],[-0.08,-7.0],[-0.1,-8.6],
  [-0.07,-6.5],[-0.04,-4.35],[-0.01,-2.2],[0.001,-1.4],[0.003,-0.2],[0.009,0.8],[0.018,2.0],[0.032,3.5],[0.05,5.3],[0.068,7.1],[0.085,8.7],
  [0.065,7.5],[0.035,5.5],[0.01,3.9],[-0.007,2.7],[-0.009,1.7],[-0.012,0.4],[-0.018,-1.2],[-0.03,-2.9],[-0.05,-4.6],[-0.075,-6.6],[-0.1,-8.7],
  [-0.08,-7.25],[-0.05,-5.1],[-0.02,-2.95],[0.0,-1.5],[0.005,-1.2],[0.012,-0.3],[0.022,0.8],[0.037,2.6],[0.055,4.8],[0.072,7.0],[0.085,8.7],
  [0.06,7.1],[0.03,5.1],[0.005,3.5],[-0.014,2.3],[-0.018,1.1],[-0.023,-0.4],[-0.03,-1.5],[-0.04,-2.6],[-0.055,-4.2],[-0.075,-6.2],[-0.1,-8.7],
  [-0.085,-7.6],[-0.055,-5.45],[-0.025,-3.3],[0.0,-1.6],[0.002,-0.8],[0.006,0.6],[0.014,1.8],[0.028,3.1],[0.045,4.8],[0.065,6.9],[0.084,8.6],
  [0.06,7.1],[0.03,5.1],[0.0,3.2],[-0.013,2.3],[-0.015,1.2],[-0.02,-0.4],[-0.028,-2.0],[-0.042,-3.5],[-0.06,-5.0],[-0.08,-6.9],[-0.1,-8.7],
  [-0.095,-8.3],[-0.065,-6.2],[-0.035,-4.05],[-0.005,-1.9],[0.004,-1.8],[0.012,-1.6],[0.022,-0.9],[0.035,0.6],[0.05,2.6],[0.068,5.6],[0.085,8.7],
  [0.065,7.5],[0.035,5.5],[0.008,3.7],[-0.004,2.8],[-0.004,1.6],[-0.006,0.2],[-0.012,-1.4],[-0.025,-2.8],[-0.045,-4.4],[-0.07,-6.3],[-0.1,-8.7],
  [-0.085,-7.6],[-0.055,-5.45],[-0.025,-3.3],[0.0,-1.5],[0.007,-1.0],[0.016,0.0],[0.026,1.2],[0.04,3.0],[0.058,5.2],[0.074,7.2],[0.085,8.7],
  [0.06,7.1],[0.03,5.1],[0.002,3.3],[-0.012,2.4],[-0.016,1.0],[-0.021,-0.6],[-0.03,-2.2],[-0.045,-3.9],[-0.065,-5.6],[-0.1,-8.7],
  [-0.075,-6.9],[-0.045,-4.75],[-0.015,-2.6],[0.0,-1.5],[0.01,-1.9],[0.02,-1.6],[0.032,-0.4],[0.048,1.8],[0.064,4.6],[0.078,7.2],[0.085,8.7]
];

const BLUE = '#0072BD';
const RED = '#FF0000';
const ORANGE = '#D95319';
const FONT = '"Liberation Sans", Arial, Helvetica, sans-serif';

function toPoints(pairs) {
  return pairs.map(p => ({ x: p[0], y: p[1] }));
}

function faultlessSet(pairs, label, radius) {
  return {
    label: label,
    data: toPoints(pairs),
    showLine: true,
    borderColor: BLUE,
    borderWidth: 1,
    borderDash: [6, 4],
    pointStyle: 'star',
    pointRadius: radius,
    pointBorderColor: BLUE,
    pointBackgroundColor: BLUE,
    pointBorderWidth: 1.3,
    order: 2
  };
}

function faultSet(pairs, label, color, width) {
  return {
    label: label,
    data: toPoints(pairs),
    showLine: true,
    borderColor: color,
    borderWidth: width,
    borderDash: [6, 2, 1.5, 2],
    pointRadius: 0,
    order: 1
  };
}

// box around the axes, inward ticks, title, legend, exponent label
const framePlugin = {
  id: 'frame',
  afterDatasetsDraw(chart) {
    const { ctx, chartArea: a, scales } = chart;
    ctx.save();
    ctx.strokeStyle = '#262626';
    ctx.lineWidth = 1;
    ctx.beginPath();
    scales.x.ticks.forEach(t => {
      const px = Math.round(scales.x.getPixelForValue(t.value)) + 0.5;
      ctx.moveTo(px, a.bottom); ctx.lineTo(px, a.bottom - 4);
      ctx.moveTo(px, a.top); ctx.lineTo(px, a.top + 4);
    });
    scales.y.ticks.forEach(t => {
      const py = Math.round(scales.y.getPixelForValue(t.value)) + 0.5;
      ctx.moveTo(a.left, py); ctx.lineTo(a.left + 4, py);
      ctx.moveTo(a.right, py); ctx.lineTo(a.right - 4, py);
    });
    ctx.stroke();
    ctx.strokeRect(Math.round(a.left) + 0.5, Math.round(a.top) + 0.5,
      Math.round(a.right - a.left), Math.round(a.bottom - a.top));
    ctx.restore();
  },
  afterDraw(chart, args, opts) {
    const ctx = chart.ctx;
    ctx.save();
    ctx.fillStyle = '#000';
    ctx.font = 'bold 12px ' + FONT;
    ctx.textAlign = 'center';
    ctx.textBaseline = 'middle';
    ctx.fillText(chartTitle, opts.titleX, 12);

    if (opts.exponent) {
      ctx.fillStyle = '#262626';
      ctx.textAlign = 'left';
      ctx.font = '12px ' + FONT;
      ctx.fillText('\u00d710', 444, 474);
      ctx.font = '10px ' + FONT;
      ctx.fillText('-3', 463, 467);
    }

    // legend
    const L = opts.legend;
    ctx.fillStyle = '#fff';
    ctx.fillRect(L.left, L.top, L.width, L.height);
    ctx.strokeStyle = '#262626';
    ctx.lineWidth = 1;
    ctx.strokeRect(L.left + 0.5, L.top + 0.5, L.width, L.height);
    chart.data.datasets.forEach((ds, i) => {
      const y = L.top + 10.5 + i * 14.5;
      const x0 = L.left + 3, x1 = L.left + 30;
      ctx.strokeStyle = ds.borderColor;
      ctx.lineWidth = Math.min(ds.borderWidth, 1);
      ctx.setLineDash(ds.borderDash);
      ctx.beginPath();
      ctx.moveTo(x0, y); ctx.lineTo(x1, y);
      ctx.stroke();
      ctx.setLineDash([]);
      if (ds.pointRadius > 0) {
        ctx.strokeStyle = ds.borderColor;
        ctx.lineWidth = 1.2;
        Chart.helpers.drawPoint(ctx, { pointStyle: 'star', radius: 3, rotation: 0, borderWidth: 1.2 }, (x0 + x1) / 2, y);
      }
      ctx.fillStyle = '#000';
      ctx.font = 'bold 11px ' + FONT;
      ctx.textAlign = 'left';
      ctx.textBaseline = 'middle';
      ctx.fillText(ds.label, x1 + 1.5, y);
    });
    ctx.restore();
  }
};

function axisScales(xTicks, xMin, xMax, xTitle, yWidth, yTitlePad, fmt) {
  const grid = { color: '#e3e3e3', lineWidth: 1, drawTicks: false };
  const tickFont = { family: FONT, size: 11, weight: 'bold' };
  return {
    x: {
      type: 'linear', min: xMin, max: xMax,
      afterBuildTicks: s => { s.ticks = xTicks.map(v => ({ value: v })); },
      afterFit: s => { s.height = 47; },
      grid: grid, border: { display: false },
      ticks: { color: '#262626', font: tickFont, padding: 6, maxRotation: 0, autoSkip: false, callback: fmt },
      title: { display: true, text: xTitle, color: '#262626', font: { family: FONT, size: 12, weight: 'bold' }, padding: { top: 0, bottom: 10 } }
    },
    y: {
      type: 'linear', min: -20, max: 20,
      afterBuildTicks: s => { s.ticks = forceTicks.map(v => ({ value: v })); },
      afterFit: s => { s.width = yWidth; },
      grid: grid, border: { display: false },
      ticks: { color: '#262626', font: tickFont, padding: 5, autoSkip: false, callback: v => String(v) },
      title: { display: true, text: 'Force (N)', color: '#262626', font: { family: FONT, size: 12, weight: 'bold' }, padding: { top: yTitlePad, bottom: 0 } }
    }
  };
}

const commonOpts = {
  responsive: false,
  animation: false,
  devicePixelRatio: 1,
  events: []
};

new Chart(document.getElementById('deflChart'), {
  type: 'scatter',
  data: {
    datasets: [
      faultlessSet(faultlessDefl, 'Faultless case', 2.6),
      faultSet(faultDefl, 'Fault case', RED, 0.9)
    ]
  },
  options: Object.assign({}, commonOpts, {
    layout: { padding: { top: 22, right: 30, left: 0, bottom: 0 } },
    scales: axisScales(deflTicks, -4, 4, 'Deflection (m)', 48, 10, v => String(v)),
    plugins: {
      legend: { display: false },
      tooltip: { enabled: false },
      frame: { titleX: 254, exponent: true, legend: { left: 358, top: 399, width: 119, height: 33 } }
    }
  }),
  plugins: [framePlugin]
});

new Chart(document.getElementById('velChart'), {
  type: 'scatter',
  data: {
    datasets: [
      faultlessSet(faultlessVel, 'Faultless case', 3.1),
      faultSet(faultVel, 'Fault Case', ORANGE, 1.3)
    ]
  },
  options: Object.assign({}, commonOpts, {
    layout: { padding: { top: 22, right: 9, left: 0, bottom: 0 } },
    scales: axisScales(velTicks, -0.2, 0.2, 'Velocity (m/s)', 52, 14, v => String(Math.round(v * 100) / 100)),
    plugins: {
      legend: { display: false },
      tooltip: { enabled: false },
      frame: { titleX: 275, exponent: false, legend: { left: 381, top: 401, width: 109, height: 32 } }
    }
  }),
  plugins: [framePlugin]
});
</script>
</body>
</html>
